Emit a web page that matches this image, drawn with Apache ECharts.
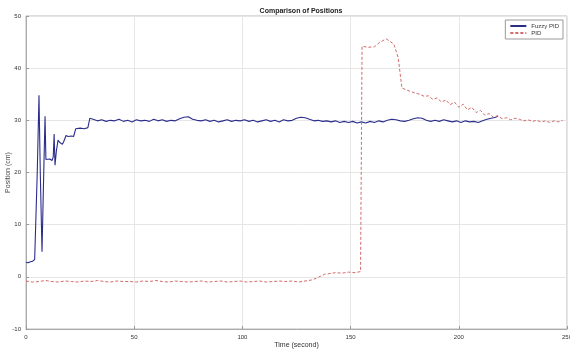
<!DOCTYPE html>
<html>
<head>
<meta charset="utf-8">
<script src="https://cdn.jsdelivr.net/npm/echarts@6/dist/echarts.min.js"></script>
<style>
  html, body { margin: 0; padding: 0; background: #fff; }
  #chart { width: 570px; height: 354px; }
</style>
</head>
<body>
<div id="chart"></div>
<script>
const xTicks = [0, 50, 100, 150, 200, 250]
const yTicks = [-10, 0, 10, 20, 30, 40, 50]

// Fuzzy PID response (time in s, position in cm)
const fuzzyTime = [
  0, 1, 2, 3, 4, 4.6, 5.2, 6, 6.6, 7.4, 8.2, 8.8, 9.2, 10, 11, 12, 12.6, 13, 13.4, 14,
  14.8, 15.5, 16, 16.8, 17.4, 18.5, 19.5, 21, 22, 23, 25, 27, 28.6, 29.5,
  31, 33, 35, 37, 39, 41, 43, 45, 47, 49, 51, 53, 55, 57, 59, 61, 63, 65, 67, 69,
  71, 73, 75, 77, 79, 81, 83, 85, 87, 89, 91, 93, 95, 97, 99, 101, 103, 105, 107, 109,
  111, 113, 115, 117, 119, 121, 123, 125, 127, 129, 131, 133, 135, 137, 139, 141, 143, 145, 147, 149,
  151, 153, 155, 157, 159, 161, 163, 165, 167, 169, 171, 173, 175, 177, 179, 181, 183, 185, 187, 189,
  191, 193, 195, 197, 199, 201, 203, 205, 207, 209, 211, 213, 215, 217, 218
]
const fuzzyPos = [
  2.8, 2.7, 2.9, 3.0, 3.3, 3.5, 20, 34.8, 20, 4.8, 20, 30.8, 22.5, 22.4, 22.6, 22.3, 23, 27.4, 21.4, 24,
  26.2, 25.8, 26.1, 25.4, 25.9, 27.1, 26.9, 27.0, 26.9, 28.4, 28.5, 28.4, 28.6, 30.4,
  30.2, 29.9, 30.1, 29.8, 30.0, 29.9, 30.2, 29.8, 30.0, 29.7, 30.1, 29.9, 30.0, 29.8, 30.2, 29.9, 30.1, 29.8, 30.0, 29.9,
  30.3, 30.6, 30.7, 30.2, 30.0, 29.9, 30.1, 29.8, 30.0, 29.7, 29.9, 30.1, 29.8, 30.0, 29.9, 30.1, 29.8, 30.0, 29.7, 29.9,
  30.1, 29.8, 30.0, 29.7, 30.1, 29.9, 30.0, 30.4, 30.6, 30.5, 30.2, 29.9, 30.0, 29.8, 29.9, 29.7, 29.9, 29.6, 29.8, 29.6,
  29.8, 29.5, 29.7, 29.5, 29.8, 29.6, 29.9, 29.7, 30.0, 30.2, 30.1, 29.9, 29.8, 30.0, 30.3, 30.5, 30.4, 30.0, 29.8, 30.0,
  29.8, 30.1, 29.9, 29.7, 29.9, 29.6, 29.9, 29.7, 29.8, 29.6, 29.9, 30.2, 30.4, 30.6, 30.8
]

// conventional PID response
const pidTime = [
  0, 3, 6, 9, 12, 15, 18, 21, 24, 27, 30, 33, 36, 39, 42, 45, 48, 51, 54, 57,
  60, 63, 66, 69, 72, 75, 78, 81, 84, 87, 90, 93, 96, 99, 102, 105, 108, 111, 114, 117,
  120, 123, 126, 129, 132, 134, 136, 138, 140, 143, 146, 149, 152, 154.6, 155.3,
  158, 161, 163, 165, 166.5, 168, 170, 172, 173.7, 176, 178, 180, 182, 184, 186, 188, 190,
  192, 194, 196, 198, 200, 202, 204, 206, 208, 210, 212, 214, 216, 218, 220, 222, 224, 226,
  228, 230, 232, 234, 236, 238, 240, 242, 244, 246, 248
]
const pidPos = [
  -0.8, -1.0, -0.9, -0.7, -0.9, -1.0, -0.8, -0.9, -1.0, -0.8, -0.9, -0.7, -0.9, -1.0, -0.8, -0.9, -0.9, -1.0, -0.8, -0.9,
  -0.7, -0.9, -1.0, -0.8, -0.9, -1.0, -0.9, -0.8, -1.0, -0.9, -0.8, -1.0, -0.9, -0.8, -1.0, -0.9, -0.8, -1.0, -0.9, -0.8,
  -0.9, -0.8, -1.0, -0.8, -0.6, -0.3, 0.1, 0.5, 0.6, 0.8, 0.7, 0.9, 0.8, 1.0, 44.2,
  44.0, 44.1, 44.8, 45.3, 45.6, 45.2, 44.6, 42.0, 36.2, 35.8, 35.5, 35.2, 35.0, 34.6, 34.7, 34.0, 34.3,
  33.5, 33.9, 33.0, 33.5, 32.5, 33.1, 32.0, 32.5, 31.5, 31.9, 31.0, 31.3, 30.6, 30.9, 30.3, 30.5, 30.1, 30.4,
  30.2, 29.9, 30.1, 29.8, 30.0, 29.7, 29.9, 29.6, 29.9, 29.7, 30.0
]

const chart = echarts.init(document.getElementById('chart'))
const font = 'Liberation Sans'

chart.setOption({
  animation: false,
  backgroundColor: '#fff',
  title: {
    text: 'Comparison of Positions',
    left: 296,
    top: 3,
    textAlign: 'center',
    textStyle: { fontFamily: font, fontSize: 7, fontWeight: 'bold', color: '#222' }
  },
  legend: {
    orient: 'vertical',
    right: 7,
    top: 20,
    itemWidth: 16,
    itemHeight: 6,
    itemGap: 1,
    padding: [3, 4, 3, 4],
    backgroundColor: '#fff',
    borderColor: '#999',
    borderWidth: 1,
    borderRadius: 0,
    itemStyle: { opacity: 0 },
    textStyle: { fontFamily: font, fontSize: 6, color: '#333' },
    data: ['Fuzzy PID', 'PID']
  },
  grid: {
    left: 26,
    right: 3,
    top: 16,
    bottom: 25,
    outerBoundsMode: 'none',
    containLabel: false,
    show: true,
    borderColor: '#bbb',
    borderWidth: 1
  },
  xAxis: {
    type: 'value',
    min: 0,
    max: 250,
    interval: 50,
    name: 'Time (second)',
    nameLocation: 'middle',
    nameGap: 13,
    nameMoveOverlap: false,
    nameTextStyle: { fontFamily: font, fontSize: 7, color: '#333' },
    axisLine: { onZero: false, lineStyle: { color: '#aaa' } },
    axisTick: { inside: true, length: 3, lineStyle: { color: '#999' } },
    axisLabel: { fontFamily: font, fontSize: 6, color: '#333', margin: 5 },
    splitLine: { show: true, lineStyle: { color: '#e6e6e6' } }
  },
  yAxis: {
    type: 'value',
    min: -10,
    max: 50,
    interval: 10,
    name: 'Position (cm)',
    nameLocation: 'middle',
    nameGap: 14,
    nameMoveOverlap: false,
    nameTextStyle: { fontFamily: font, fontSize: 7, color: '#444' },
    axisLine: { show: true, onZero: false, lineStyle: { color: '#aaa' } },
    axisTick: { show: true, inside: true, length: 3, lineStyle: { color: '#999' } },
    axisLabel: { fontFamily: font, fontSize: 6, color: '#333', margin: 5 },
    splitLine: { show: true, lineStyle: { color: '#e6e6e6' } }
  },
  series: [
    {
      name: 'Fuzzy PID',
      type: 'line',
      showSymbol: false,
      symbol: 'none',
      lineStyle: { color: '#2b2d8c', width: 1.1 },
      itemStyle: { color: '#2b2d8c' },
      data: fuzzyTime.map((t, i) => [t, fuzzyPos[i]])
    },
    {
      name: 'PID',
      type: 'line',
      showSymbol: false,
      symbol: 'none',
      lineStyle: { color: '#d46a6a', width: 1, type: [3, 2] },
      itemStyle: { color: '#d46a6a' },
      data: pidTime.map((t, i) => [t, pidPos[i]])
    }
  ]
})
</script>
</body>
</html>
